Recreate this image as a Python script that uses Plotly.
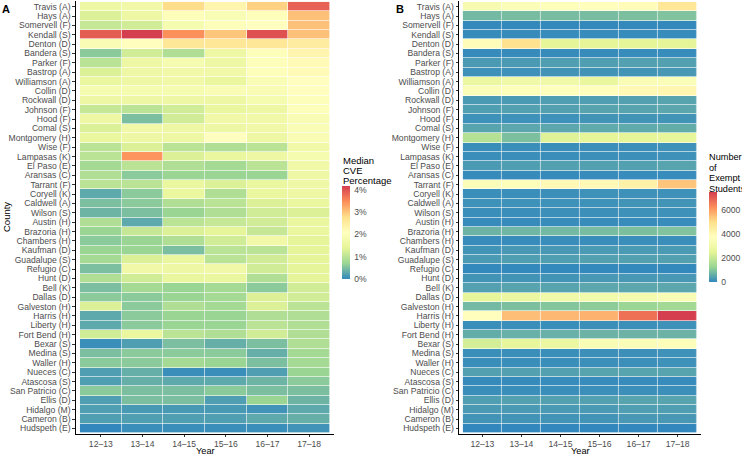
import plotly.graph_objects as go

counties = ["Travis (A)", "Hays (A)", "Somervell (F)", "Kendall (S)", "Denton (D)", "Bandera (S)",
            "Parker (F)", "Bastrop (A)", "Williamson (A)", "Collin (D)", "Rockwall (D)", "Johnson (F)",
            "Hood (F)", "Comal (S)", "Montgomery (H)", "Wise (F)", "Lampasas (K)", "El Paso (E)",
            "Aransas (C)", "Tarrant (F)", "Coryell (K)", "Caldwell (A)", "Wilson (S)", "Austin (H)",
            "Brazoria (H)", "Chambers (H)", "Kaufman (D)", "Guadalupe (S)", "Refugio (C)", "Hunt (D)",
            "Bell (K)", "Dallas (D)", "Galveston (H)", "Harris (H)", "Liberty (H)", "Fort Bend (H)",
            "Bexar (S)", "Medina (S)", "Waller (H)", "Nueces (C)", "Atascosa (S)", "San Patricio (C)",
            "Ellis (D)", "Hidalgo (M)", "Cameron (B)", "Hudspeth (E)"]
years = ["12\u201313", "13\u201314", "14\u201315", "15\u201316", "16\u201317", "17\u201318"]

# Median CVE percentage (%), rows follow counties, columns follow years
cve_pct = [
    [1.6, 1.7, 2.8, 2.3, 2.9, 3.85],
    [1.3, 1.6, 2.0, 1.9, 2.0, 3.05],
    [1.1, 1.2, 1.8, 2.0, 2.1, 3.05],
    [3.9, 4.17, 3.45, 3.0, 4.0, 3.05],
    [1.9, 2.1, 2.6, 2.6, 2.6, 2.5],
    [0.6, 1.2, 0.9, 1.6, 2.0, 2.3],
    [1.0, 1.6, 1.8, 1.6, 2.0, 2.2],
    [1.3, 1.6, 1.7, 1.7, 2.0, 2.2],
    [1.5, 1.6, 1.7, 1.5, 1.9, 2.1],
    [1.8, 1.8, 1.8, 1.9, 1.9, 2.1],
    [1.6, 1.6, 1.6, 1.6, 1.8, 2.0],
    [1.1, 1.0, 1.2, 1.5, 1.6, 2.0],
    [1.6, 0.5, 1.2, 1.7, 1.7, 1.9],
    [1.3, 1.7, 1.6, 1.6, 1.7, 1.9],
    [1.5, 1.6, 1.6, 2.1, 1.6, 1.9],
    [1.0, 1.3, 1.0, 0.9, 1.0, 1.7],
    [1.0, 3.4, 1.3, 1.5, 1.6, 1.8],
    [0.8, 1.0, 0.9, 0.8, 1.0, 1.7],
    [0.9, 0.6, 0.7, 0.7, 0.7, 1.6],
    [1.0, 1.0, 1.5, 1.3, 1.5, 1.6],
    [0.3, 0.6, 1.5, 0.9, 1.5, 1.6],
    [0.5, 0.6, 0.9, 1.0, 1.3, 1.5],
    [0.4, 0.5, 0.7, 0.9, 1.2, 1.3],
    [0.9, 0.3, 1.0, 1.1, 1.2, 1.5],
    [0.7, 1.1, 1.3, 1.4, 1.1, 1.5],
    [0.6, 0.7, 0.9, 1.2, 1.7, 1.4],
    [0.7, 0.7, 0.5, 1.0, 1.0, 1.4],
    [0.8, 1.3, 1.5, 1.0, 1.2, 1.4],
    [0.5, 1.7, 1.6, 1.7, 1.2, 1.4],
    [0.9, 1.2, 1.5, 1.5, 0.9, 1.4],
    [0.5, 0.8, 0.7, 0.8, 0.6, 1.2],
    [0.6, 0.6, 0.7, 0.8, 1.3, 1.2],
    [1.3, 0.6, 0.9, 0.8, 1.3, 1.0],
    [0.3, 0.6, 0.7, 0.7, 0.9, 0.9],
    [0.3, 0.6, 0.7, 0.7, 1.0, 0.9],
    [1.2, 1.5, 1.0, 0.9, 1.2, 0.9],
    [0.05, 0.2, 0.5, 0.35, 0.5, 0.9],
    [0.5, 0.6, 0.6, 0.6, 0.35, 0.8],
    [0.6, 0.6, 0.8, 0.7, 0.5, 0.8],
    [0.2, 0.35, 0.05, 0.05, 0.2, 0.7],
    [0.2, 0.35, 0.3, 0.3, 0.4, 0.6],
    [0.6, 0.5, 0.5, 0.6, 0.5, 0.5],
    [0.2, 0.5, 0.5, 0.2, 0.7, 0.4],
    [0.2, 0.15, 0.15, 0.15, 0.1, 0.3],
    [0.2, 0.2, 0.2, 0.2, 0.3, 0.35],
    [0.0, 0.05, 0.05, 0.05, 0.05, 0.1],
]

# Number of exempt students
exempt_n = [
    [3300, 3500, 3600, 3800, 3900, 4700],
    [800, 850, 850, 850, 900, 950],
    [20, 20, 20, 20, 20, 20],
    [50, 50, 60, 60, 60, 70],
    [3900, 4900, 2500, 2500, 2500, 2500],
    [50, 50, 50, 50, 60, 60],
    [300, 300, 350, 350, 400, 400],
    [150, 150, 200, 200, 200, 250],
    [2800, 3000, 3000, 2700, 3400, 3500],
    [3500, 3600, 3700, 3800, 4000, 4100],
    [300, 300, 350, 350, 400, 450],
    [350, 400, 400, 450, 450, 500],
    [150, 150, 150, 200, 200, 200],
    [450, 500, 500, 550, 550, 600],
    [1700, 900, 2400, 2500, 2500, 2600],
    [100, 100, 100, 120, 120, 150],
    [100, 100, 100, 120, 120, 150],
    [300, 350, 400, 400, 400, 450],
    [50, 50, 50, 60, 60, 60],
    [3500, 3600, 4000, 4000, 4300, 5400],
    [100, 100, 120, 150, 150, 150],
    [150, 150, 150, 150, 200, 200],
    [100, 100, 120, 120, 150, 150],
    [50, 50, 60, 60, 60, 60],
    [700, 750, 800, 850, 900, 950],
    [60, 70, 80, 80, 100, 100],
    [200, 250, 250, 300, 300, 300],
    [300, 350, 350, 400, 400, 400],
    [20, 20, 20, 20, 20, 20],
    [200, 200, 200, 250, 250, 250],
    [400, 450, 450, 500, 500, 500],
    [2600, 2800, 3000, 3100, 3200, 3400],
    [800, 900, 1000, 1100, 1300, 1400],
    [3800, 5500, 5600, 5700, 6700, 7500],
    [100, 100, 100, 120, 120, 150],
    [600, 650, 650, 700, 700, 700],
    [2200, 2600, 2800, 3400, 3500, 3600],
    [100, 100, 100, 120, 120, 150],
    [100, 100, 100, 120, 120, 150],
    [400, 400, 400, 450, 450, 450],
    [50, 50, 60, 60, 60, 60],
    [100, 100, 100, 120, 120, 120],
    [350, 400, 400, 400, 450, 450],
    [300, 300, 300, 300, 350, 350],
    [200, 200, 200, 200, 250, 250],
    [0, 0, 0, 0, 0, 0],
]

cve_ticks = [0, 1, 2, 3, 4]
cve_ticktext = ["0%", "1%", "2%", "3%", "4%"]
exempt_ticks = [0, 2000, 4000, 6000]

spectral_rev = [
    [0.0, "#3288BD"], [1 / 6, "#99D594"], [2 / 6, "#E6F598"], [3 / 6, "#FFFFBF"],
    [4 / 6, "#FEE08B"], [5 / 6, "#FC8D59"], [1.0, "#D53E4F"],
]

W, H = 742, 455
FONT = "Liberation Sans, Arial, sans-serif"
TICKC = "#4D4D4D"
TICKFS = 8.6


def px_x(p):
    return p / W


def px_y(p):
    return 1 - p / H


fig = go.Figure()

fig.add_trace(go.Heatmap(
    z=cve_pct, x=years, y=counties, colorscale=spectral_rev,
    zmin=0, zmax=max(max(r) for r in cve_pct),
    xgap=0.6, ygap=0.6, xaxis="x", yaxis="y",
    colorbar=dict(
        x=px_x(342), xanchor="left", xpad=0, y=px_y(186), yanchor="top", ypad=0,
        lenmode="pixels", len=93, thickness=8, outlinewidth=0,
        tickvals=cve_ticks, ticktext=cve_ticktext, ticks="outside", ticklen=3,
        tickcolor="rgba(0,0,0,0)", tickfont=dict(size=TICKFS, color=TICKC, family=FONT),
    ),
))

fig.add_trace(go.Heatmap(
    z=exempt_n, x=years, y=counties, colorscale=spectral_rev,
    zmin=0, zmax=max(max(r) for r in exempt_n),
    xgap=0.6, ygap=0.6, xaxis="x2", yaxis="y2",
    colorbar=dict(
        x=px_x(709), xanchor="left", xpad=0, y=px_y(192), yanchor="top", ypad=0,
        lenmode="pixels", len=90, thickness=8, outlinewidth=0,
        tickvals=exempt_ticks, ticks="outside", ticklen=3,
        tickcolor="rgba(0,0,0,0)", tickfont=dict(size=TICKFS, color=TICKC, family=FONT),
    ),
))

ydom = [px_y(434), px_y(1)]
xaxis_common = dict(
    type="category", categoryorder="array", categoryarray=years, range=[-0.6, 5.6],
    tickmode="array", tickvals=years, ticktext=years,
    showline=True, linecolor="#000000", linewidth=1, ticks="outside", ticklen=2,
    tickcolor="#333333", tickfont=dict(size=TICKFS, color=TICKC, family=FONT),
    showgrid=False, zeroline=False, fixedrange=True, automargin=False,
)
yaxis_common = dict(
    type="category", categoryorder="array", categoryarray=counties[::-1], range=[-0.6, 45.6],
    tickmode="array", tickvals=counties, ticktext=counties,
    showline=True, linecolor="#000000", linewidth=1, ticks="outside", ticklen=2.5,
    tickcolor="#333333", tickfont=dict(size=TICKFS, color=TICKC, family=FONT),
    showgrid=False, zeroline=False, fixedrange=True, domain=ydom, automargin=False,
)

fig.update_layout(
    width=W, height=H, margin=dict(l=0, r=0, t=0, b=0, autoexpand=False),
    paper_bgcolor="white", plot_bgcolor="white",
    font=dict(family=FONT, color="#000000"),
    xaxis=dict(xaxis_common, domain=[px_x(75.8), px_x(334.2)], anchor="y"),
    yaxis=dict(yaxis_common, anchor="x"),
    xaxis2=dict(xaxis_common, domain=[px_x(459), px_x(701)], anchor="y2"),
    yaxis2=dict(yaxis_common, anchor="x2"),
    showlegend=False,
)

ann = []
ann.append(dict(text="<b>A</b>", x=px_x(0), y=px_y(1), xanchor="left", yanchor="top", font=dict(size=11)))
ann.append(dict(text="<b>B</b>", x=px_x(394), y=px_y(1), xanchor="left", yanchor="top", font=dict(size=11)))
ann.append(dict(text="County", x=px_x(6), y=px_y(217), textangle=-90, xanchor="center", yanchor="middle", font=dict(size=9.5)))
ann.append(dict(text="Year", x=px_x(205), y=px_y(450.5), xanchor="center", yanchor="middle", font=dict(size=9.2)))
ann.append(dict(text="Year", x=px_x(580), y=px_y(450.5), xanchor="center", yanchor="middle", font=dict(size=9.2)))
for i, t in enumerate(["Median", "CVE", "Percentage"]):
    ann.append(dict(text=t, x=px_x(341), y=px_y(160 + 10.5 * i), xanchor="left", yanchor="middle", font=dict(size=9.5)))
for i, t in enumerate(["Number", "of", "Exempt", "Students"]):
    ann.append(dict(text=t, x=px_x(707), y=px_y(157 + 10.5 * i), xanchor="left", yanchor="middle", font=dict(size=9.2)))
for a in ann:
    a.update(xref="paper", yref="paper", showarrow=False)
    a["font"].update(family=FONT, color="#000000")
fig.update_layout(annotations=ann)

fig.write_html("out.html", config={"displayModeBar": False},
               post_script="document.body.style.margin='0';document.body.style.overflow='hidden';")
